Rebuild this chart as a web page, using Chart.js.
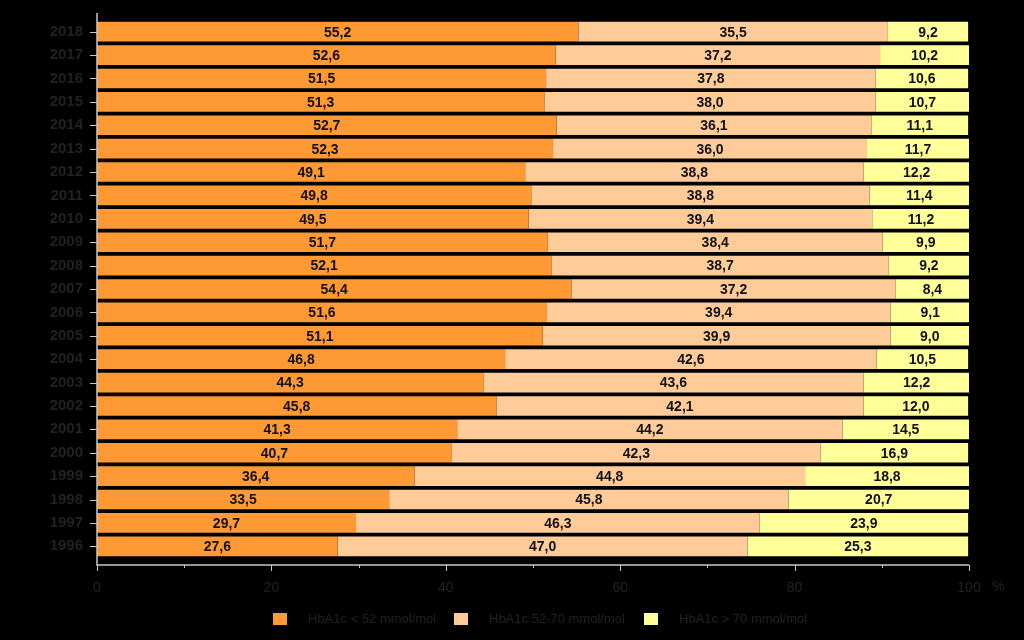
<!DOCTYPE html>
<html>
<head>
<meta charset="utf-8">
<script src="https://cdn.jsdelivr.net/npm/chart.js@4"></script>
<style>
  html, body { margin: 0; padding: 0; background: #000; }
  #wrap { width: 1024px; height: 640px; position: relative; }
</style>
</head>
<body>
<div id="wrap"><canvas id="chart" width="1024" height="640"></canvas></div>
<script>
const years = ['2018', '2017', '2016', '2015', '2014', '2013', '2012', '2011', '2010', '2009', '2008', '2007',
  '2006', '2005', '2004', '2003', '2002', '2001', '2000', '1999', '1998', '1997', '1996'];
const lowValues = [55.2, 52.6, 51.5, 51.3, 52.7, 52.3, 49.1, 49.8, 49.5, 51.7, 52.1, 54.4,
  51.6, 51.1, 46.8, 44.3, 45.8, 41.3, 40.7, 36.4, 33.5, 29.7, 27.6];
const midValues = [35.5, 37.2, 37.8, 38.0, 36.1, 36.0, 38.8, 38.8, 39.4, 38.4, 38.7, 37.2,
  39.4, 39.9, 42.6, 43.6, 42.1, 44.2, 42.3, 44.8, 45.8, 46.3, 47.0];
const highValues = [9.2, 10.2, 10.6, 10.7, 11.1, 11.7, 12.2, 11.4, 11.2, 9.9, 9.2, 8.4,
  9.1, 9.0, 10.5, 12.2, 12.0, 14.5, 16.9, 18.8, 20.7, 23.9, 25.3];
const seriesNames = ['HbA1c < 52 mmol/mol', 'HbA1c 52-70 mmol/mol', 'HbA1c > 70 mmol/mol'];
const seriesColors = ['#ff9933', '#ffcc99', '#ffff99'];
const xTicks = [0, 20, 40, 60, 80, 100];

const dimText = '#222';
const axisColor = '#c8c8c8';

// value labels centred in each segment, decimal comma
const barLabels = {
  id: 'barLabels',
  afterDatasetsDraw(chart) {
    const ctx = chart.ctx;
    ctx.save();
    ctx.font = 'bold 14px "Liberation Sans", Arial, sans-serif';
    ctx.fillStyle = '#111';
    ctx.textAlign = 'center';
    ctx.textBaseline = 'middle';
    chart.data.datasets.forEach((ds, di) => {
      chart.getDatasetMeta(di).data.forEach((bar, i) => {
        const txt = ds.data[i].toFixed(1).replace('.', ',');
        ctx.fillText(txt, (bar.x + bar.base) / 2, bar.y + 1);
      });
    });
    ctx.restore();
  }
};

// axis lines, tick marks, % sign and legend
const axesAndLegend = {
  id: 'axesAndLegend',
  afterDraw(chart) {
    const ctx = chart.ctx;
    const a = chart.chartArea;
    const x = chart.scales.x, y = chart.scales.y;
    const axisY = 565;
    ctx.save();
    ctx.strokeStyle = axisColor;
    ctx.lineWidth = 1.5;
    ctx.beginPath();
    ctx.moveTo(a.left, 13);
    ctx.lineTo(a.left, axisY);
    ctx.lineTo(a.right, axisY);
    ctx.stroke();
    ctx.lineWidth = 1;
    ctx.beginPath();
    years.forEach((yr, i) => {
      const py = Math.round(y.getPixelForValue(i)) + 0.5;
      ctx.moveTo(a.left - 7, py);
      ctx.lineTo(a.left, py);
    });
    for (let v = 0; v <= 100; v += 10) {
      const px = Math.round(x.getPixelForValue(v)) + 0.5;
      ctx.moveTo(px, axisY);
      ctx.lineTo(px, axisY + (v % 20 === 0 ? 6 : 3));
    }
    ctx.stroke();

    ctx.font = '14px "Liberation Sans", Arial, sans-serif';
    ctx.fillStyle = dimText;
    ctx.textBaseline = 'middle';
    ctx.textAlign = 'left';
    ctx.fillText('%', x.getPixelForValue(100) + 23, 587);

    ctx.font = '13px "Liberation Sans", Arial, sans-serif';
    const legendX = [273, 454, 644];
    seriesNames.forEach((name, i) => {
      ctx.fillStyle = seriesColors[i];
      ctx.fillRect(legendX[i], 613, 14, 12);
      ctx.fillStyle = dimText;
      ctx.fillText(name, legendX[i] + 35, 619);
    });
    ctx.restore();
  }
};

new Chart(document.getElementById('chart'), {
  type: 'bar',
  data: {
    labels: years,
    datasets: [
      { label: seriesNames[0], data: lowValues, backgroundColor: seriesColors[0] },
      { label: seriesNames[1], data: midValues, backgroundColor: seriesColors[1] },
      { label: seriesNames[2], data: highValues, backgroundColor: seriesColors[2] }
    ]
  },
  options: {
    indexAxis: 'y',
    responsive: false,
    animation: false,
    barPercentage: 0.84,
    categoryPercentage: 1,
    layout: { padding: { top: 20, right: 55, bottom: 0, left: 0 } },
    plugins: { legend: { display: false }, tooltip: { enabled: false } },
    scales: {
      x: {
        stacked: true,
        min: 0,
        max: 100,
        afterFit(scale) { scale.height = 82; scale.paddingLeft = 0; scale.paddingRight = 0; },
        afterBuildTicks(scale) { scale.ticks = xTicks.map(v => ({ value: v })); },
        grid: { display: false, drawTicks: false },
        border: { display: false },
        ticks: {
          padding: 22,
          color: dimText,
          font: { family: '"Liberation Sans", Arial, sans-serif', size: 14 }
        }
      },
      y: {
        stacked: true,
        afterFit(scale) { scale.width = 97; scale.paddingTop = 0; scale.paddingBottom = 0; },
        grid: { display: false, drawTicks: false },
        border: { display: false },
        ticks: {
          padding: 14,
          color: dimText,
          font: { family: '"Liberation Sans", Arial, sans-serif', size: 15, weight: 'bold' }
        }
      }
    }
  },
  plugins: [barLabels, axesAndLegend]
});
</script>
</body>
</html>
